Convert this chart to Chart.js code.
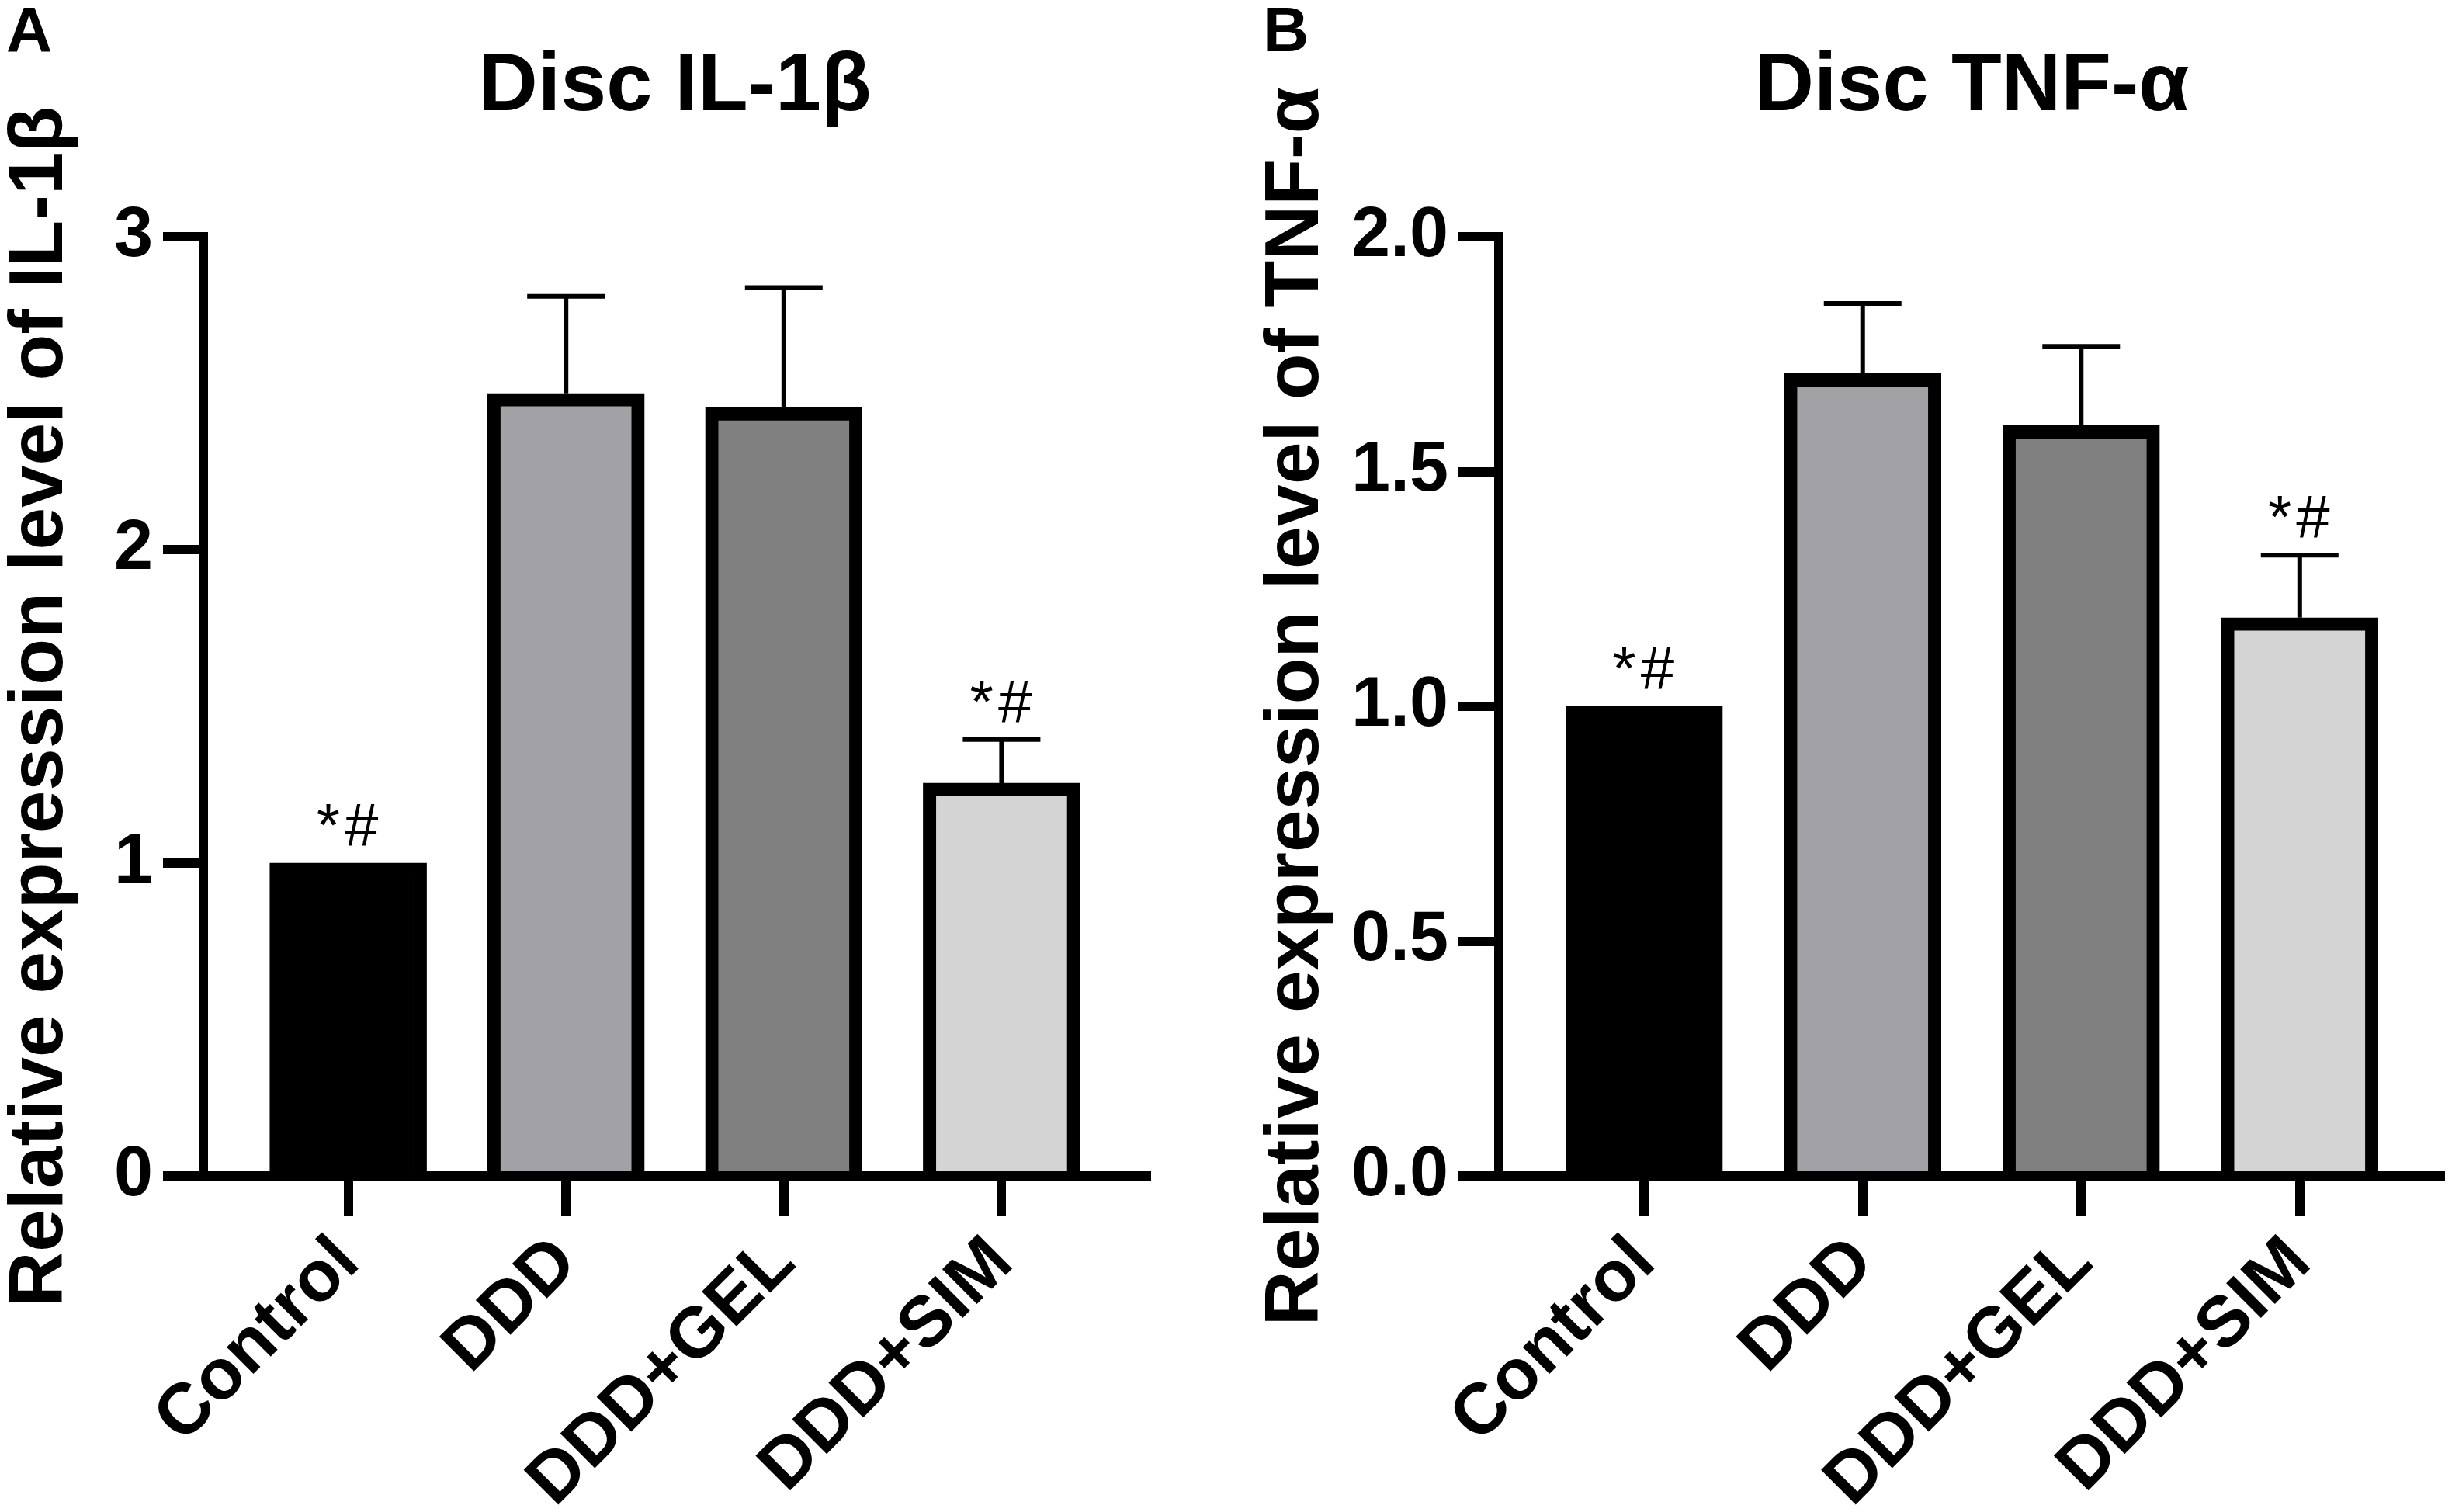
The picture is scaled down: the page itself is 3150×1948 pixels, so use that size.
<!DOCTYPE html>
<html>
<head>
<meta charset="utf-8">
<title>Disc IL-1β / TNF-α</title>
<script src="https://cdn.jsdelivr.net/npm/chart.js@4.4.1/dist/chart.umd.min.js"></script>
<style>
  html, body { margin: 0; padding: 0; background: #fff; }
  #wrap { position: relative; width: 3150px; height: 1948px; background: #fff; }
  #wrap canvas { position: absolute; top: 0; }
  #chartA { left: 0; }
  #chartB { left: 1575px; }
</style>
</head>
<body>
<div id="wrap">
  <canvas id="chartA" width="1575" height="1948"></canvas>
  <canvas id="chartB" width="1575" height="1948"></canvas>
</div>
<script>
// ---------------------------------- { Data }
const groups = ["Control", "DDD", "DDD+GEL", "DDD+SIM"];
const barColors = ["#000000", "#a2a2a6", "#808080", "#d4d4d4"];
const il1bMean = [1.0, 2.5, 2.455, 1.255];
const il1bUpper = [1.0, 2.81, 2.838, 1.394];
const tnfMean = [1.0, 1.709, 1.598, 1.189];
const tnfUpper = [1.0, 1.858, 1.767, 1.322];
const marks = ["*#", "", "", "*#"];
const il1bTicks = [0, 1, 2, 3];
const tnfTicks = [0, 0.5, 1.0, 1.5, 2.0];

const FONT = '"Liberation Sans", Arial, Helvetica, sans-serif';
Chart.defaults.font.family = FONT;
Chart.defaults.color = "#000";

// Error bars + significance marks ---------------------------------- { Errors }
const errorBars = {
  id: "errorBars",
  afterDatasetsDraw(chart, args, opts) {
    const { ctx, scales } = chart;
    const x = scales.x;
    const y = scales.y;
    ctx.save();
    ctx.strokeStyle = "#000";
    ctx.fillStyle = "#000";
    ctx.lineWidth = 6;
    opts.upper.forEach((u, i) => {
      const px = x.getPixelForValue(i);
      const top = y.getPixelForValue(opts.mean[i]);
      const up = y.getPixelForValue(u);
      if (u > opts.mean[i]) {
        ctx.beginPath();
        ctx.moveTo(px, top);
        ctx.lineTo(px, up);
        ctx.moveTo(px - 50, up);
        ctx.lineTo(px + 50, up);
        ctx.stroke();
      }
      if (opts.marks[i]) {
        ctx.font = "78px " + FONT;
        ctx.letterSpacing = "6px";
        ctx.textAlign = "center";
        ctx.textBaseline = "alphabetic";
        ctx.fillText(opts.marks[i], px + 2, Math.min(top, up) - 22);
      }
    });
    ctx.restore();
  },
};

// Rotated y title + panel letter ---------------------------------- { Side text }
const sideText = {
  id: "sideText",
  afterDraw(chart, args, opts) {
    const { ctx, chartArea } = chart;
    ctx.save();
    ctx.fillStyle = "#000";
    ctx.font = "bold 98px " + FONT;
    ctx.translate(opts.titleX, (chartArea.top + chartArea.bottom) / 2);
    ctx.rotate(-Math.PI / 2);
    ctx.textAlign = "center";
    ctx.textBaseline = "alphabetic";
    ctx.fillText(opts.title, 0, 0);
    ctx.restore();

    ctx.save();
    ctx.fillStyle = "#000";
    ctx.font = "bold 82px " + FONT;
    ctx.textAlign = "left";
    ctx.textBaseline = "alphabetic";
    ctx.fillText(opts.letter, opts.letterX, 66);
    ctx.restore();
  },
};

function makePanel(id, cfg) {
  const ctx = document.getElementById(id).getContext("2d");
  return new Chart(ctx, {
    type: "bar",
    data: {
      datasets: [
        {
          data: groups.map((g, i) => ({ x: i, y: cfg.mean[i] })),
          backgroundColor: barColors,
          borderColor: "#000",
          borderWidth: 17,
          borderSkipped: "start",
          barThickness: 202,
        },
      ],
    },
    options: {
      responsive: false,
      devicePixelRatio: 1,
      animation: false,
      layout: { padding: { left: 0, top: 0, right: cfg.padRight, bottom: 0 } },
      scales: {
        x: {
          type: "linear",
          min: -0.665,
          max: 3.665,
          offset: false,
          z: 1,
          afterBuildTicks: (s) => {
            s.ticks = groups.map((g, i) => ({ value: i }));
          },
          afterFit: (s) => {
            s.height = 433;
          },
          ticks: {
            callback: (v) => groups[v],
            autoSkip: false,
            minRotation: 45,
            maxRotation: 45,
            padding: 6,
            font: { size: 92, weight: "bold" },
            color: "#000",
          },
          grid: {
            offset: false,
            drawOnChartArea: false,
            drawTicks: true,
            tickLength: 52,
            tickWidth: 12,
            lineWidth: 12,
            tickColor: "#000",
            color: "#000",
          },
          border: { display: true, width: 12, color: "#000" },
        },
        y: {
          min: 0,
          max: cfg.ticks[cfg.ticks.length - 1],
          afterBuildTicks: (s) => {
            s.ticks = cfg.ticks.map((v) => ({ value: v }));
          },
          afterFit: (s) => {
            s.width = cfg.axisLeft;
          },
          ticks: {
            callback: cfg.tickFormat,
            padding: 13,
            font: { size: 90, weight: "bold" },
            color: "#000",
          },
          grid: {
            drawOnChartArea: false,
            drawTicks: true,
            tickLength: 52,
            tickWidth: 12,
            lineWidth: 12,
            tickColor: "#000",
            color: "#000",
          },
          border: { display: true, width: 12, color: "#000" },
        },
      },
      plugins: {
        legend: { display: false },
        tooltip: { enabled: false },
        title: {
          display: true,
          text: cfg.title,
          fullSize: false,
          color: "#000",
          font: { size: 106, weight: "bold" },
          padding: { top: 49, bottom: 129 },
        },
        errorBars: { mean: cfg.mean, upper: cfg.upper, marks: marks },
        sideText: {
          title: cfg.yTitle,
          titleX: cfg.yTitleX,
          letter: cfg.letter,
          letterX: cfg.letterX,
        },
      },
    },
    plugins: [errorBars, sideText],
  });
}

// Panel A ---------------------------------- { IL-1β }
makePanel("chartA", {
  title: "Disc IL-1β",
  yTitle: "Relative expression level of IL-1β",
  letter: "A",
  letterX: 8,
  yTitleX: 80,
  axisLeft: 262,
  padRight: 98,
  mean: il1bMean,
  upper: il1bUpper,
  ticks: il1bTicks,
  tickFormat: (v) => String(v),
});

// Panel B ---------------------------------- { TNF-α }
makePanel("chartB", {
  title: "Disc TNF-α",
  yTitle: "Relative expression level of TNF-α",
  letter: "B",
  letterX: 52,
  yTitleX: 123,
  axisLeft: 356,
  padRight: 0,
  mean: tnfMean,
  upper: tnfUpper,
  ticks: tnfTicks,
  tickFormat: (v) => v.toFixed(1),
});
</script>
</body>
</html>
